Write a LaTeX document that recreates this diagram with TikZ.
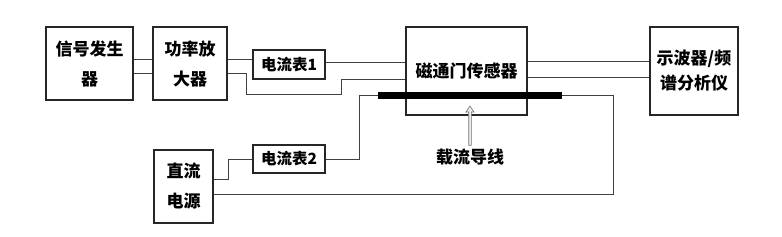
\documentclass[tikz,border=0pt]{standalone}
\usepackage{fontspec}
\setmainfont{Noto Sans CJK SC}
\usetikzlibrary{positioning, arrows.meta}

\begin{document}
\begin{tikzpicture}[x=1pt, y=-1pt,
  blk/.style={draw=black!85, line width=1.1pt, inner sep=0pt, align=center,
    font=\fontsize{17}{20}\selectfont\bfseries},
  meter/.style={blk, minimum width=72, minimum height=29,
    font=\fontsize{15.5}{18}\selectfont\bfseries},
  wire/.style={draw=black!75, line width=0.9pt},
]
  \useasboundingbox (0,0) rectangle (782,236);
  % blocks
  \node[blk, minimum width=87, minimum height=73] (sig) at (89.5,63.5) {信号发生\\[10pt]器};
  \node[blk, minimum width=74, minimum height=73] (amp) at (190,63.5) {功率放\\[10pt]大器};
  \node[meter] (am1) at (289,64.5) {电流表1};
  \node[blk, minimum width=121, minimum height=88] (fg) at (466.5,71) {磁通门传感器};
  \node[blk, minimum width=88, minimum height=88] (scope) at (694,71) {示波器/频\\[5pt]谱分析仪};
  \node[meter, minimum height=28] (am2) at (289,159) {电流表2};
  \node[blk, minimum width=59, minimum height=73] (dc) at (183.5,186.5) {直流\\[10pt]电源};
  \node[fill=black, minimum width=184, minimum height=7, inner sep=0pt] (bar) at (470,95.5) {};
  \node[font=\fontsize{17}{20}\selectfont\bfseries] (lbl) at (470,157) {载流导线};
  \coordinate (tip) at (470,106);
  % wires
  \draw[wire] (sig.east |- 0,59) -- (amp.west |- 0,59);
  \draw[wire] (sig.east |- 0,73) -- (amp.west |- 0,73);
  \draw[wire] (amp.east |- 0,59) -- (am1.west |- 0,59);
  \draw[wire] (am1.east |- 0,62) -- (fg.west |- 0,62);
  \draw[wire] (amp.east |- 0,73) -| (246,94) -| (341,79) -- (fg.west |- 0,79);
  \draw[wire] (fg.east |- 0,61) -- (scope.west |- 0,61);
  \draw[wire] (fg.east |- 0,77) -- (scope.west |- 0,77);
  \draw[wire] (bar.east) -| (613,194) -- (dc.east |- 0,194);
  \draw[wire] (bar.west) -| (359,159) -- (am2.east);
  \draw[wire] (am2.west) -| (228,179) -- (dc.east |- 0,179);
  % hollow arrow to the wire
  \draw[black!55, line width=0.6pt, fill=black!8]
    (tip) -- (474,112) -- (471.3,112) -- ([xshift=1.3pt]lbl.north)
    -- ([xshift=-1.3pt]lbl.north) -- (468.7,112) -- (466,112) -- cycle;
\end{tikzpicture}
\end{document}
